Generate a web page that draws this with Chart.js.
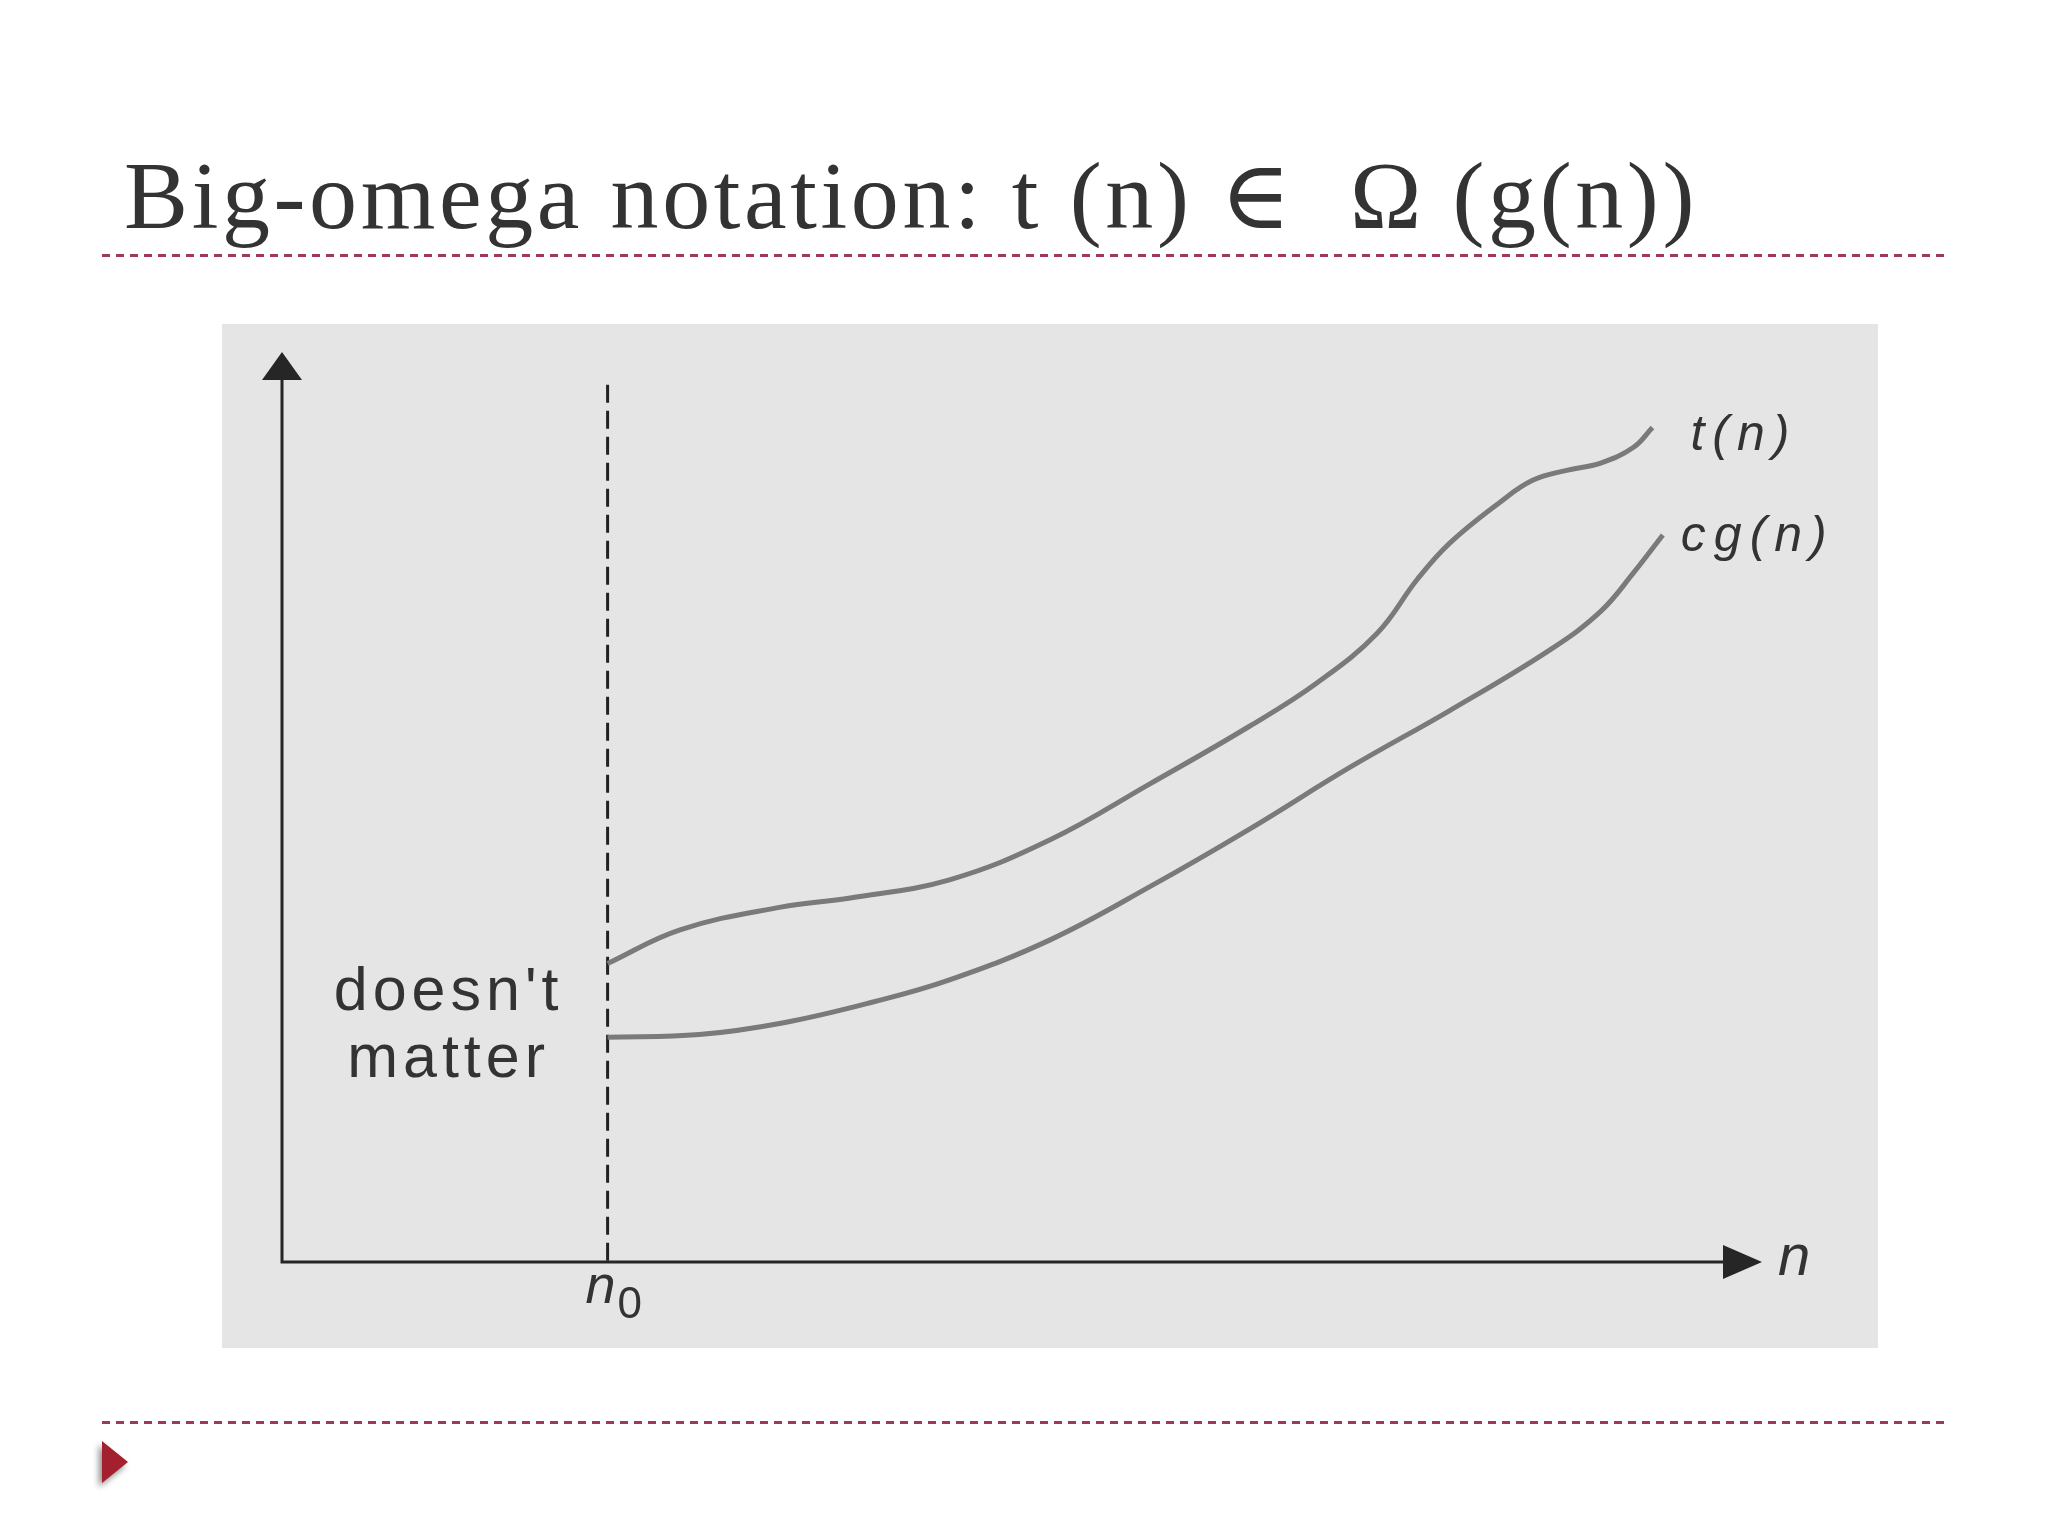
<!DOCTYPE html>
<html>
<head>
<meta charset="utf-8">
<script src="https://cdn.jsdelivr.net/npm/chart.js@4.4.1/dist/chart.umd.min.js"></script>
<style>
    html, body { margin: 0; padding: 0; background: #fff; }
    body { width: 2048px; height: 1536px; position: relative; overflow: hidden; }
    .title {
        position: absolute; left: 124px; top: 148px;
        font-family: "Liberation Serif", "DejaVu Serif", serif;
        font-size: 96px; line-height: 96px; letter-spacing: 3.6px;
        color: #333; white-space: nowrap;
    }
    .rule {
        position: absolute; left: 102px; width: 1844px; height: 3px;
        background: repeating-linear-gradient(to right, #9e3a58 0 8px, transparent 8px 14px);
    }
    .bullet {
        position: absolute; left: 102px; top: 1441px; width: 0; height: 0;
        border-left: 26px solid #a3202f;
        border-top: 21px solid transparent; border-bottom: 21px solid transparent;
        filter: drop-shadow(-3px 4px 3px rgba(0,0,0,0.45));
    }
    #plot { position: absolute; left: 222px; top: 324px; background: #e5e5e5; }
</style>
</head>
<body>
<div class="title">Big-omega notation: t (n) ∈ &nbsp;Ω (g(n))</div>
<div class="rule" style="top: 254px;"></div>
<canvas id="plot" width="1656" height="1024"></canvas>
<div class="rule" style="top: 1421px;"></div>
<div class="bullet"></div>

<script>
// t(n) curve (n on 0-100, value on 0-100)
const tN      = [22.0, 26.9, 33.7, 38.4, 45.1, 51.9, 58.7, 65.4, 69.9, 74.0, 76.7, 78.9, 82.3, 84.5, 86.8, 89.1, 91.3, 92.6];
const tValues = [32.8, 36.5, 39.0, 40.0, 42.0, 46.4, 52.6, 58.9, 63.6, 69.1, 75.0, 79.0, 83.5, 85.9, 87.0, 87.8, 89.5, 91.7];

// cg(n) curve
const cgN      = [22.0, 28.2, 33.9, 40.0, 45.1, 51.9, 58.7, 65.4, 72.2, 78.9, 85.7, 89.1, 91.3, 93.3];
const cgValues = [24.7, 25.0, 26.3, 28.6, 31.0, 35.4, 41.3, 47.6, 54.4, 60.6, 67.3, 71.5, 75.7, 79.9];

// threshold n0 and the top of its dashed marker
const n0 = 22.0;
const n0Top = 96.4;

const seriesLabels = ['t(n)', 'cg(n)'];
const sideNote = ["doesn't", 'matter'];

const toPoints = (xs, ys) => xs.map((v, i) => ({ x: v, y: ys[i] }));

const diagram = {
    id: 'diagram',
    afterDatasetsDraw(chart) {
        const { ctx, chartArea, scales: { x, y } } = chart;
        const x0 = x.getPixelForValue(0);
        const y0 = y.getPixelForValue(0);
        const xn0 = x.getPixelForValue(n0);
        ctx.save();
        ctx.strokeStyle = '#262626';
        ctx.fillStyle = '#262626';
        ctx.lineWidth = 3;

        // axes with arrow heads
        ctx.beginPath();
        ctx.moveTo(x0, y0 + 1.5);
        ctx.lineTo(x0, chartArea.top + 26);
        ctx.moveTo(x0 - 1.5, y0);
        ctx.lineTo(chartArea.right - 36, y0);
        ctx.stroke();
        ctx.beginPath();
        ctx.moveTo(x0, chartArea.top);
        ctx.lineTo(x0 - 20, chartArea.top + 28);
        ctx.lineTo(x0 + 20, chartArea.top + 28);
        ctx.closePath();
        ctx.fill();
        ctx.beginPath();
        ctx.moveTo(chartArea.right, y0);
        ctx.lineTo(chartArea.right - 39, y0 - 17);
        ctx.lineTo(chartArea.right - 39, y0 + 17);
        ctx.closePath();
        ctx.fill();

        // text
        ctx.fillStyle = '#333';
        ctx.textBaseline = 'alphabetic';
        ctx.font = 'italic 58px "Liberation Sans", Arial, sans-serif';
        ctx.textAlign = 'left';
        ctx.fillText('n', chartArea.right + 16, y0 + 13);

        ctx.font = 'italic 54px "Liberation Sans", Arial, sans-serif';
        ctx.fillText('n', xn0 - 22, y0 + 41);
        ctx.font = '44px "Liberation Sans", Arial, sans-serif';
        ctx.fillText('0', xn0 + 10, y0 + 56);

        ctx.font = '61px "Liberation Sans", Arial, sans-serif';
        ctx.letterSpacing = '5px';
        ctx.textAlign = 'center';
        ctx.fillText(sideNote[0], xn0 - 159, y0 - 252);
        ctx.fillText(sideNote[1], xn0 - 159, y0 - 185);

        ctx.font = 'italic 50px "Liberation Sans", Arial, sans-serif';
        ctx.letterSpacing = '8px';
        ctx.textAlign = 'left';
        const tEnd = chart.getDatasetMeta(0).data.at(-1);
        const cgEnd = chart.getDatasetMeta(1).data.at(-1);
        ctx.fillText(seriesLabels[0], tEnd.x + 38, tEnd.y + 22);
        ctx.fillText(seriesLabels[1], cgEnd.x + 18, cgEnd.y + 16);
        ctx.restore();
    }
};

new Chart(document.getElementById('plot'), {
    type: 'line',
    data: {
        datasets: [
            {
                label: seriesLabels[0],
                data: toPoints(tN, tValues),
                borderColor: '#7a7a7a', borderWidth: 5,
                tension: 0.4, pointRadius: 0
            },
            {
                label: seriesLabels[1],
                data: toPoints(cgN, cgValues),
                borderColor: '#7a7a7a', borderWidth: 5,
                tension: 0.4, pointRadius: 0
            },
            {
                label: 'n0',
                data: [{ x: n0, y: n0Top }, { x: n0, y: 0 }],
                borderColor: '#222', borderWidth: 3,
                borderDash: [18, 8], pointRadius: 0
            }
        ]
    },
    options: {
        responsive: false,
        animation: false,
        devicePixelRatio: 1,
        layout: { padding: { left: 60, top: 28, right: 116, bottom: 86 } },
        scales: {
            x: { type: 'linear', min: 0, max: 100, display: false },
            y: { type: 'linear', min: 0, max: 100, display: false }
        },
        plugins: { legend: { display: false }, tooltip: { enabled: false } }
    },
    plugins: [diagram]
});
</script>
</body>
</html>
